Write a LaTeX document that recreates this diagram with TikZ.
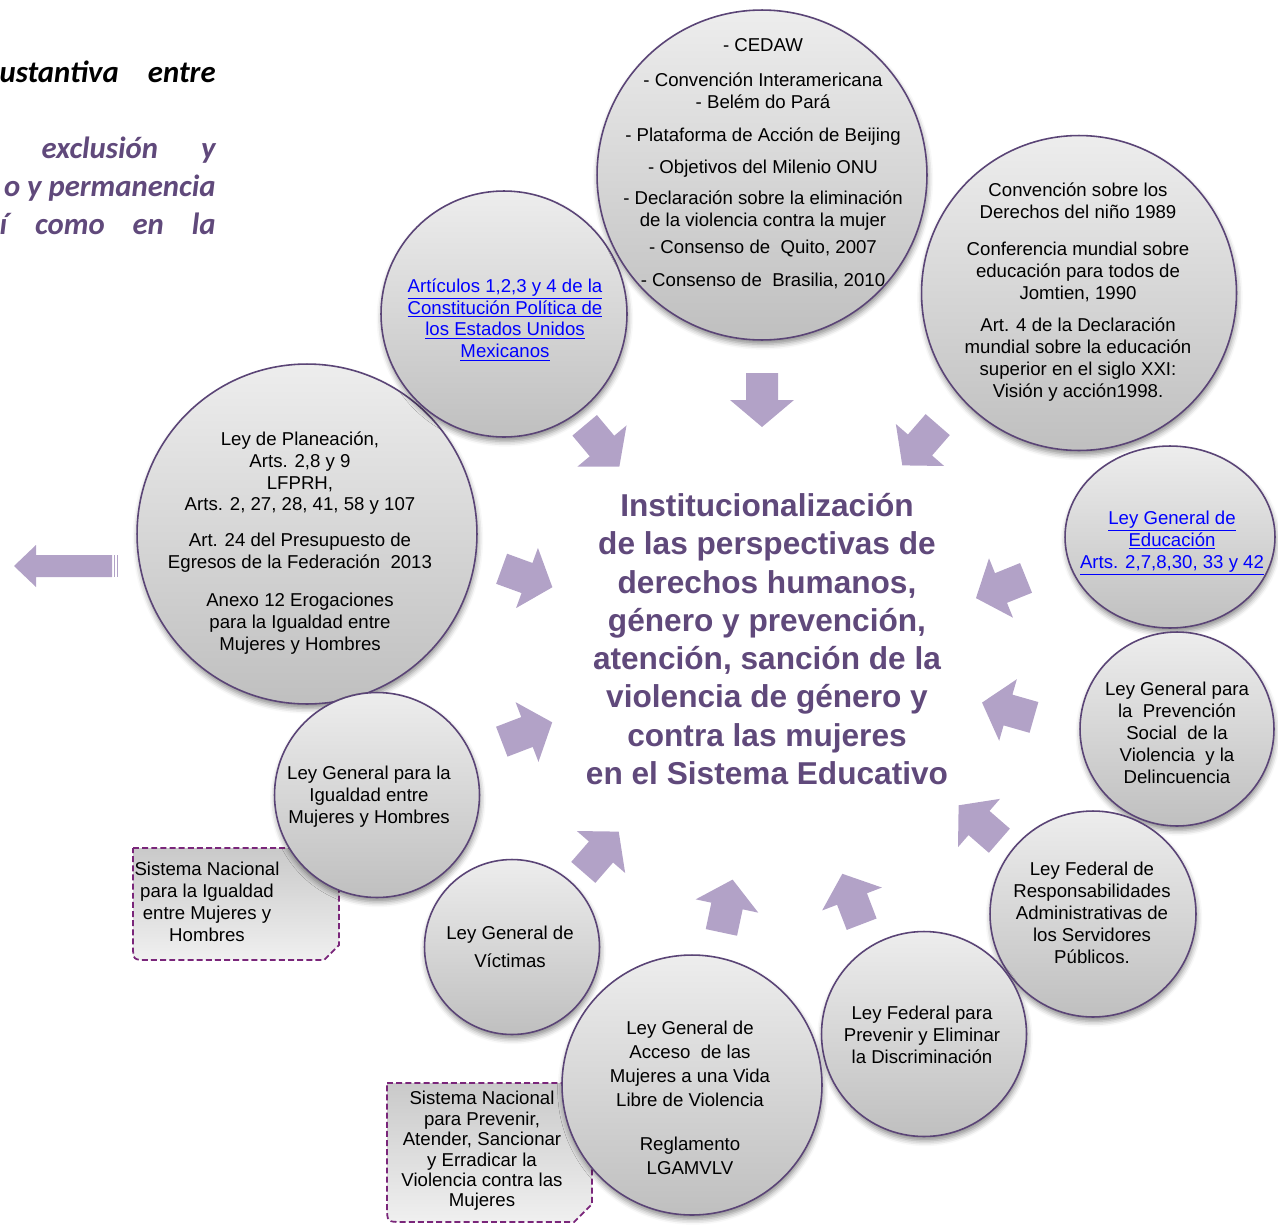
\documentclass[tikz,border=0pt]{standalone}
\usepackage{fontspec}
\setmainfont{Liberation Sans}
\newfontfamily\calibri{Carlito}
\usepackage{tikz}
\usetikzlibrary{shapes.geometric, shadows.blur}
\definecolor{lila}{RGB}{178,162,199}
\definecolor{ciruela}{RGB}{96,73,123}
\definecolor{borde}{RGB}{90,68,118}
\definecolor{guion}{RGB}{122,38,122}
\definecolor{liga}{RGB}{0,0,255}
\tikzstyle{bubble} = [draw=borde, line width=0.9pt, circle, inner sep=0pt, top color=black!7, bottom color=black!25,
                      blur shadow={shadow xshift=0.5pt, shadow yshift=-2.5pt, shadow blur radius=3pt, shadow opacity=45}]
\tikzstyle{txt}    = [align=center, inner sep=0pt, font=\fontsize{10.6}{12.5}\selectfont]
\tikzstyle{link}   = [txt, text=liga]
\tikzstyle{sysbox} = [draw=guion, dash pattern=on 3.4pt off 1.8pt, line width=1pt, top color=black!21, bottom color=black!6]
\tikzstyle{side}   = [anchor=base east, inner sep=0pt, text=ciruela, font=\calibri\bfseries\itshape\fontsize{17.5}{21}\selectfont]
\tikzset{pics/blk/.style={code={
  \fill [lila] (-27,-16) -- (0,-16) -- (0,-32) -- (27,0) -- (0,32) -- (0,16) -- (-27,16) -- cycle;
}}}

\begin{document}
\begin{tikzpicture}[x=0.02cm, y=-0.02cm]

\useasboundingbox (0,0) rectangle (1278,1224);
\clip (0,0) rectangle (1278,1224);

% text cut at the left margin
\node [side, text=black] at ( 216,  82 ) (s1) {\makebox[4.32cm]{ustantiva\hfill entre}};
\node [side]             at ( 216, 158 ) (s2) {\makebox[3.48cm]{exclusión\hfill y}};
\node [side]             at ( 216, 196 ) (s3) {o y permanencia};
\node [side]             at ( 216, 234 ) (s4) {\makebox[4.32cm]{í\hfill como\hfill en\hfill la}};

% arrow to the left
\fill [lila] (14,566) -- (36,545) -- (36,555) -- (112,555) -- (112,577) -- (36,577) -- (36,587) -- cycle;
\fill [lila] (113.5,555) rectangle (115,577);
\fill [lila] (116.5,555) rectangle (118,577);

% dashed boxes
\path [sysbox] (133,848) -- (327,848) -- (339,860) -- (339,945) -- (324,960) -- (148,960) .. controls (133,960) .. (133,945) -- cycle;
\path [sysbox] (387,1083) -- (578,1083) -- (592,1097) -- (592,1204) -- (574,1222) -- (403,1222) .. controls (387,1222) .. (387,1206) -- cycle;
\node [txt]                                        at ( 207, 902 ) (sniMH) {Sistema Nacional\\ para la Igualdad\\ entre Mujeres y\\ Hombres};
\node [txt, font=\fontsize{10.6}{11.6}\selectfont] at ( 482,1151 ) (sniVM) {Sistema Nacional\\ para Prevenir,\\ Atender, Sancionar\\ y Erradicar la\\ Violencia contra las\\ Mujeres};

% circles
\node [bubble, minimum size=6.8cm]                                  at ( 307, 534 ) (plan)  {};
\node [bubble, minimum size=4.92cm]                                 at ( 504, 314 ) (art)   {};
\node [bubble, minimum size=6.6cm]                                  at ( 762, 175 ) (cedaw) {};
\node [bubble, minimum size=6.3cm]                                  at (1079, 293 ) (conv)  {};
\node [bubble, ellipse, minimum width=4.2cm, minimum height=3.64cm] at (1170, 537 ) (educ)  {};
\node [bubble, minimum size=3.88cm]                                 at (1177, 729 ) (prev)  {};
\node [bubble, minimum size=4.12cm]                                 at (1093, 914 ) (resp)  {};
\node [bubble, minimum size=4.1cm]                                  at ( 924,1034 ) (disc)  {};
\node [bubble, minimum size=5.2cm]                                  at ( 692,1085 ) (acc)   {};
\node [bubble, minimum size=3.5cm]                                  at ( 512, 947 ) (vict)  {};
\node [bubble, minimum size=4.1cm]                                  at ( 377, 795 ) (igual) {};

% circle texts
\node [txt]  at ( 763, 164 ) (tcedaw) {- CEDAW\\[0.26cm] - Convención Interamericana\\ - Belém do Pará\\[0.22cm] - Plataforma de Acción de Beijing\\[0.2cm]
  - Objetivos del Milenio ONU\\[0.18cm] - Declaración sobre la eliminación\\ de la violencia contra la mujer\\[0.1cm] - Consenso de\ \ Quito, 2007\\[0.22cm] - Consenso de\ \ Brasilia, 2010};
\node [link] at ( 505, 320 ) (tart)   {\underline{Artículos 1,2,3 y 4 de la}\\ \underline{Constitución Política de}\\ \underline{los Estados Unidos}\\ \underline{Mexicanos}};
\node [txt]  at (1078, 292 ) (tconv)  {Convención sobre los\\ Derechos del niño 1989\\[0.3cm] Conferencia mundial sobre\\ educación para todos de\\ Jomtien, 1990\\[0.2cm]
  Art. 4 de la Declaración\\ mundial sobre la educación\\ superior en el siglo XXI:\\ Visión y acción1998.};
\node [txt]  at ( 300, 543 ) (tplan)  {Ley de Planeación,\\ Arts. 2,8 y 9\\ LFPRH,\\ Arts. 2, 27, 28, 41, 58 y 107\\[0.28cm] Art. 24 del Presupuesto de\\ Egresos de la Federación\ \ 2013\\[0.32cm]
  Anexo 12 Erogaciones\\ para la Igualdad entre\\ Mujeres y Hombres};
\node [link] at (1172, 543 ) (teduc)  {\underline{Ley General de}\\ \underline{Educación}\\ \underline{Arts. 2,7,8,30,\ 33 y 42}};
\node [txt]  at (1177, 733 ) (tprev)  {Ley General para\\ la\ \ Prevención\\ Social\ \ de la\\ Violencia\ \ y la\\ Delincuencia};
\node [txt]  at (1092, 913 ) (tresp)  {Ley Federal de\\ Responsabilidades\\ Administrativas de\\ los Servidores\\ Públicos.};
\node [txt]  at ( 922,1035 ) (tdisc)  {Ley Federal para\\ Prevenir y Eliminar\\ la Discriminación};
\node [txt, font=\fontsize{10.6}{13.5}\selectfont] at ( 690,1098 ) (tacc) {Ley General de\\ Acceso\ \ de las\\ Mujeres a una Vida\\ Libre de Violencia\\[0.42cm] Reglamento\\ LGAMVLV};
\node [txt]  at ( 510, 947 ) (tvict)  {Ley General de\\[0.12cm] Víctimas};
\node [txt]  at ( 369, 797 ) (tigual) {Ley General para la\\ Igualdad entre\\ Mujeres y Hombres};

% centre
\node [align=center, inner sep=0pt, text=ciruela, font=\fontsize{18}{21.8}\selectfont\bfseries] at ( 767, 639 ) (centro)
  {Institucionalización\\ de las perspectivas de\\ derechos humanos,\\ género y prevención,\\ atención, sanción de la\\ violencia de género y\\ contra las mujeres\\ en el Sistema Educativo};

% arrows towards the centre
\pic [rotate=-90]  at ( 762, 400 ) {blk};
\pic [rotate=-50]  at ( 602, 446 ) {blk};
\pic [rotate=-131] at ( 920, 445 ) {blk};
\pic [rotate=-20]  at ( 527, 578 ) {blk};
\pic [rotate=21]   at ( 527, 732 ) {blk};
\pic [rotate=49]   at ( 601, 852 ) {blk};
\pic [rotate=78]   at ( 727, 906 ) {blk};
\pic [rotate=111]  at ( 852, 899 ) {blk};
\pic [rotate=139]  at ( 979, 823 ) {blk};
\pic [rotate=164]  at (1008, 710 ) {blk};
\pic [rotate=202]  at (1001, 588 ) {blk};

\end{tikzpicture}
\end{document}
